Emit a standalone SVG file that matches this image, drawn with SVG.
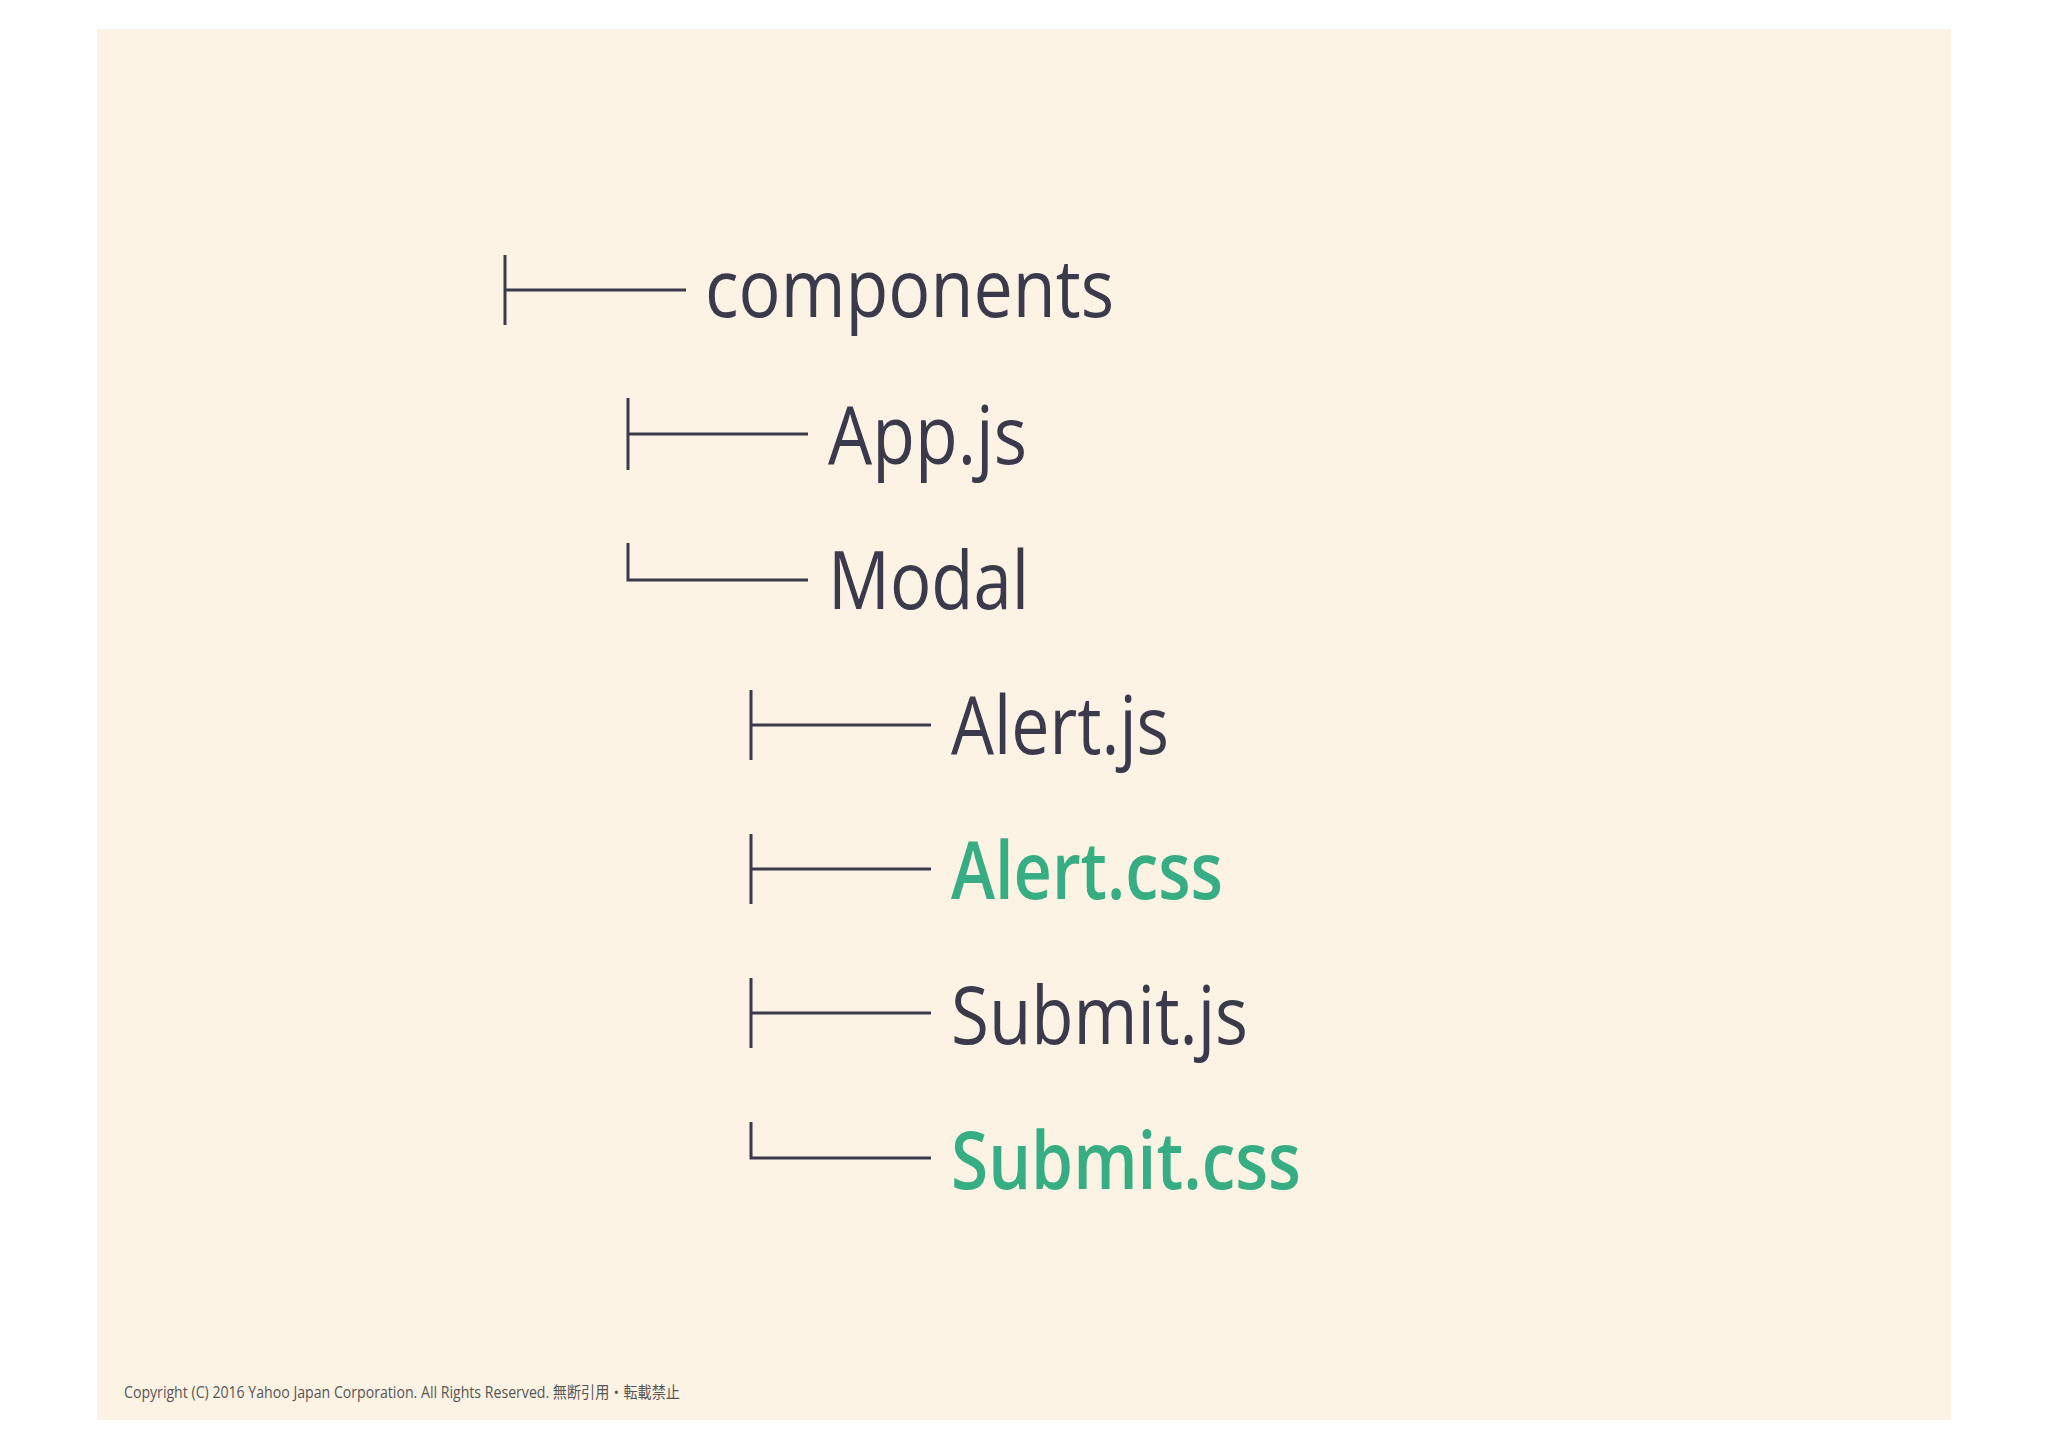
<svg xmlns="http://www.w3.org/2000/svg" width="2048" height="1447" viewBox="0 0 2048 1447">
<style>
.t{font-family:"Open Sans","Liberation Sans",sans-serif;font-size:80px;fill:#3b3a4c}
.g{fill:#36ad82;font-weight:600}
.c{stroke:#3b3a4c;stroke-width:3;fill:none}
.f{font-family:"Open Sans","Noto Sans CJK JP",sans-serif;font-size:16px;fill:#555}
</style>
<rect width="2048" height="1447" fill="#fff"/>
<rect x="97" y="29" width="1854" height="1391" fill="#fdf3e4"/>
<g id="connectors">
<path class="c" d="M505 255V325M505 290H686"/>
<path class="c" d="M628 398V470M628 434H808"/>
<path class="c" d="M628 543V580H808"/>
<path class="c" d="M751 690V760M751 725H931"/>
<path class="c" d="M751 834V904M751 869H931"/>
<path class="c" d="M751 978V1048M751 1013H931"/>
<path class="c" d="M751 1122V1158H931"/>
</g>
<g id="components"><text class="t" x="705" y="317" textLength="409" lengthAdjust="spacingAndGlyphs">components</text></g>
<g id="appjs"><text class="t" x="828" y="464" textLength="199" lengthAdjust="spacingAndGlyphs">App.js</text></g>
<g id="modal"><text class="t" x="828" y="609" textLength="201" lengthAdjust="spacingAndGlyphs">Modal</text></g>
<g id="alertjs"><text class="t" x="951" y="754" textLength="218" lengthAdjust="spacingAndGlyphs">Alert.js</text></g>
<g id="alertcss"><text class="t g" x="951" y="899" textLength="272" lengthAdjust="spacingAndGlyphs">Alert.css</text></g>
<g id="submitjs"><text class="t" x="951" y="1044" textLength="297" lengthAdjust="spacingAndGlyphs">Submit.js</text></g>
<g id="submitcss"><text class="t g" x="951" y="1189" textLength="350" lengthAdjust="spacingAndGlyphs">Submit.css</text></g>
<text class="f" x="124" y="1398" textLength="556" lengthAdjust="spacingAndGlyphs">Copyright (C) 2016 Yahoo Japan Corporation. All Rights Reserved. 無断引用・転載禁止</text>
</svg>
